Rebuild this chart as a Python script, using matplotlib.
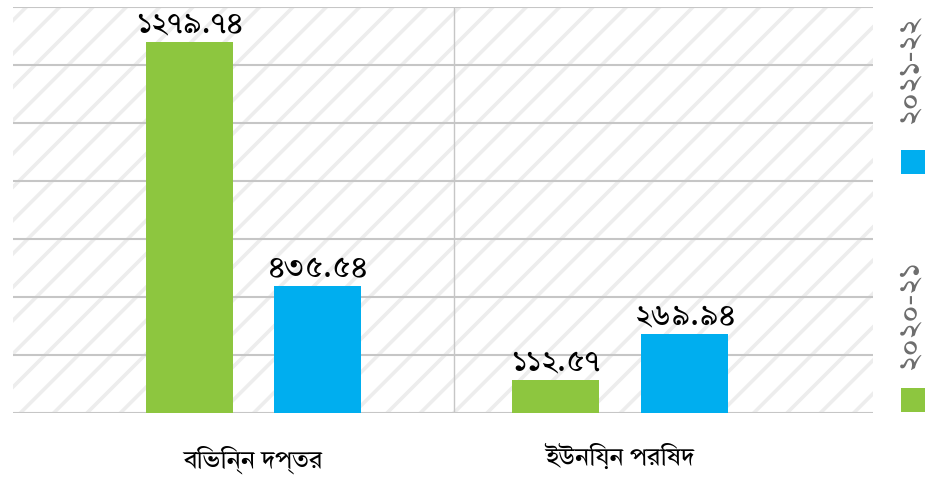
import matplotlib
matplotlib.use("Agg")
import matplotlib.pyplot as plt
from matplotlib.patches import Rectangle
import numpy as np

plt.rcParams['font.family'] = ['Tiro Bangla', 'Noto Sans Bengali', 'DejaVu Sans']
plt.rcParams['hatch.linewidth'] = 2.6

# data
categories = ['বিভিন্ন দপ্তর', 'ইউনিয়ন পরিষদ']
series_names = ['২০২০-২১', '২০২১-২২']
values_2020 = [1279.74, 112.57]
values_2021 = [435.54, 269.94]
labels_2020 = ['১২৭৯.৭৪', '১১২.৫৭']
labels_2021 = ['৪৩৫.৫৪', '২৬৯.৯৪']
colors = ['#8dc63f', '#00aeef']

fig = plt.figure(figsize=(9.27, 4.78), dpi=100)
ax = fig.add_axes([13 / 927, 1 - 412.5 / 478, 860 / 927, 405.5 / 478])

# striped background
bg = Rectangle((0, 0), 1, 1, transform=ax.transAxes, facecolor='white',
               edgecolor='#ededed', hatch='/', linewidth=0, zorder=0)
ax.add_patch(bg)

x = np.arange(len(categories))
w = 0.237
off = 0.175
b1 = ax.bar(x - off, values_2020, w, color=colors[0], zorder=3)
b2 = ax.bar(x + off, values_2021, w, color=colors[1], zorder=3)

for bars, labs in [(b1, labels_2020), (b2, labels_2021)]:
    for rect, lab in zip(bars, labs):
        ax.annotate(lab, (rect.get_x() + rect.get_width() / 2, rect.get_height()),
                    xytext=(0, 2), textcoords='offset points', ha='center', va='bottom',
                    fontsize=22, color='black', zorder=4)

ax.set_xlim(-0.656, 1.69)
ax.set_ylim(0, 1400)
ax.set_yticks(np.arange(0, 1401, 200))
ax.yaxis.grid(True, color='#c6c6c6', linewidth=1.5, zorder=1)
ax.axvline(0.547, color='#c6c6c6', linewidth=1.0, zorder=1)
ax.set_axisbelow(True)
ax.tick_params(left=False, bottom=False, labelleft=False)
ax.set_xticks(x)
ax.set_xticklabels(categories, fontsize=18)
ax.tick_params(axis='x', pad=20)
for s in ax.spines.values():
    s.set_visible(False)

# legend at right, rotated
leg_y = [(388, 315), (150, 70)]
for (sq_top, txt_c), name, c in zip(leg_y, series_names, colors):
    fig.add_artist(Rectangle((901 / 927, 1 - (sq_top + 24) / 478), 24 / 927, 24 / 478,
                             transform=fig.transFigure, facecolor=c, edgecolor='none'))
    fig.text(909 / 927, 1 - txt_c / 478, name, rotation=90, ha='center', va='center',
             fontsize=22, color='#6d6d6d')

fig.savefig("out.png")
